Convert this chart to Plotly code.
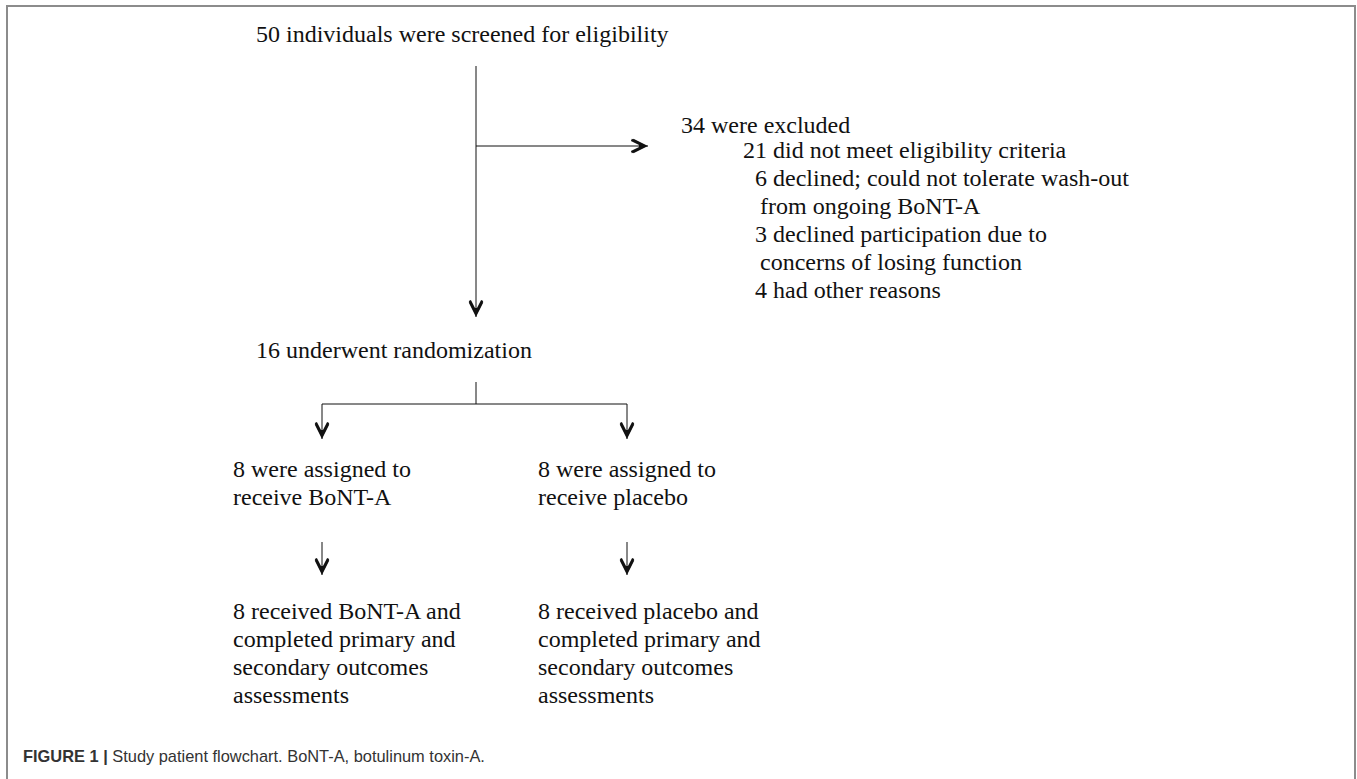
import plotly.graph_objects as go

W, H = 1357, 779

# flowchart texts
screened = "50 individuals were screened for eligibility"
excluded = [
    "34 were excluded",
    "21 did not meet eligibility criteria",
    "6 declined; could not tolerate wash-out",
    "from ongoing BoNT-A",
    "3 declined participation due to",
    "concerns of losing function",
    "4 had other reasons",
]
randomized = "16 underwent randomization"
assigned = [
    ["8 were assigned to", "receive BoNT-A"],
    ["8 were assigned to", "receive placebo"],
]
completed = [
    ["8 received BoNT-A and", "completed primary and", "secondary outcomes", "assessments"],
    ["8 received placebo and", "completed primary and", "secondary outcomes", "assessments"],
]
caption_label = "FIGURE 1 |"
caption_text = "Study patient flowchart. BoNT-A, botulinum toxin-A."

# layout in pixels (x to the right, y down)
SERIF = "Liberation Serif, Times New Roman, serif"
SANS = "Liberation Sans, Arial, sans-serif"
LINE = "#111111"
STEP = 28          # line spacing of the text blocks
stem_x = 476
arm_x = [322, 627]
col_x = [232, 537]
excl_x = [680, 742, 754, 759, 754, 759, 754]

fig = go.Figure()


def add_text(x, baseline, s, size=24, family=SERIF, color="#111111"):
    fig.add_annotation(x=x, y=baseline - 7, text=s, showarrow=False,
                       xanchor="left", yanchor="middle", borderpad=0,
                       font=dict(family=family, size=size, color=color))


def add_line(x0, y0, x1, y1):
    fig.add_shape(type="line", x0=x0, y0=y0, x1=x1, y1=y1,
                  line=dict(color=LINE, width=1))


def add_arrow(x0, y0, x1, y1):
    # thin shaft plus a bold chevron head (two heads stacked to thicken it)
    add_line(x0, y0, x1, y1)
    ux = (x1 > x0) - (x1 < x0)
    uy = (y1 > y0) - (y1 < y0)
    for back in (0, 1.6):
        tx, ty = x1 - ux * back, y1 - uy * back
        fig.add_annotation(x=tx, y=ty, ax=tx - ux * 8, ay=ty - uy * 8,
                           axref="x", ayref="y",
                           text="", font=dict(size=1), borderpad=0,
                           showarrow=True, arrowhead=5, arrowsize=1.1,
                           arrowwidth=2.2, arrowcolor=LINE, standoff=0)


# screening
add_text(255, 41, screened)
add_arrow(stem_x, 66, stem_x, 317)
add_arrow(stem_x, 146, 648, 146)

for i, s in enumerate(excluded):
    base = 132 if i == 0 else 157 + (i - 1) * STEP
    add_text(excl_x[i], base, s)

# randomisation
add_text(255, 357, randomized)
add_line(stem_x, 382, stem_x, 404)
add_line(arm_x[0], 404, arm_x[1], 404)

for k in range(2):
    add_arrow(arm_x[k], 404, arm_x[k], 439)
    for j, s in enumerate(assigned[k]):
        add_text(col_x[k], 476 + j * STEP, s)
    add_arrow(arm_x[k], 542, arm_x[k], 575)
    for j, s in enumerate(completed[k]):
        add_text(col_x[k], 618 + j * STEP, s)

# frame, open at the bottom
fig.add_shape(type="rect", x0=7, y0=6, x1=W - 2, y1=H + 30,
              line=dict(color="#8c8c8c", width=2))

add_text(22, 763, "<b>" + caption_label + "</b> " + caption_text,
         size=16.4, family=SANS, color="#333333")

fig.update_xaxes(range=[0, W], visible=False, fixedrange=True)
fig.update_yaxes(range=[H, 0], visible=False, fixedrange=True)
fig.update_layout(
    width=W, height=H,
    margin=dict(l=0, r=0, t=0, b=0),
    paper_bgcolor="white",
    plot_bgcolor="white",
    showlegend=False,
)

fig.write_html("out.html", config={"displayModeBar": False},
               post_script="document.body.style.margin='0';")
